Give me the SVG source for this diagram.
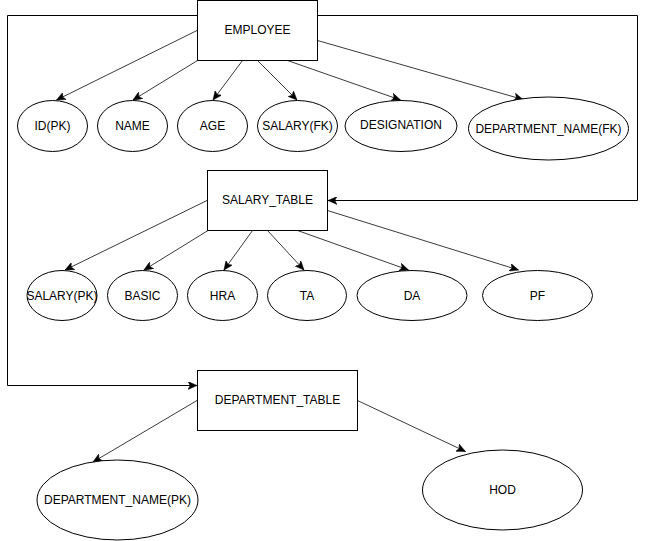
<svg xmlns="http://www.w3.org/2000/svg" width="646" height="541" viewBox="0 0 646 541">
  <style>
    .box { fill: #ffffff; stroke: #000000; stroke-width: 1; }
    .attr { fill: #ffffff; stroke: #000000; stroke-width: 1; }
    .lbl { font-family: "Liberation Sans", Arial, sans-serif; font-size: 12px; fill: #000000; text-anchor: middle; dominant-baseline: central; }
    .edge { fill: none; stroke: #3a3a3a; stroke-width: 1; marker-end: url(#arrow); }
    .link { fill: none; stroke: #000000; stroke-width: 1; marker-end: url(#arrow); }
  </style>
  <defs>
    <marker id="arrow" viewBox="0 0 10 8" refX="9" refY="4" markerWidth="10" markerHeight="8" markerUnits="userSpaceOnUse" orient="auto">
      <path d="M0,0 L9,4 L0,8 L2.2,4 Z" fill="#000000" stroke="#000000" stroke-width="0.5"/>
    </marker>
  </defs>
  <rect width="646" height="541" fill="#ffffff"/>

  <!-- connectors -->
  <g id="connectors">
    <!-- EMPLOYEE attributes -->
    <line class="edge" x1="197" y1="30.5" x2="56.5" y2="100"/>
    <line class="edge" x1="197.5" y1="60.5" x2="133" y2="100"/>
    <line class="edge" x1="242.5" y1="60.5" x2="213" y2="100"/>
    <line class="edge" x1="257.5" y1="60.5" x2="297" y2="100"/>
    <line class="edge" x1="287.5" y1="60.5" x2="400.5" y2="100"/>
    <line class="edge" x1="317.5" y1="40.5" x2="523" y2="99.5"/>
    <!-- SALARY_TABLE attributes -->
    <line class="edge" x1="207" y1="200.5" x2="65" y2="270"/>
    <line class="edge" x1="208" y1="230.5" x2="144" y2="270"/>
    <line class="edge" x1="252.5" y1="230.5" x2="224" y2="270"/>
    <line class="edge" x1="267.5" y1="230.5" x2="304" y2="270"/>
    <line class="edge" x1="297.5" y1="230.5" x2="408.5" y2="270"/>
    <line class="edge" x1="327.5" y1="210.5" x2="518.5" y2="270"/>
    <!-- DEPARTMENT_TABLE attributes -->
    <line class="edge" x1="197" y1="400.5" x2="93" y2="462"/>
    <line class="edge" x1="357.5" y1="400.5" x2="465.5" y2="451.5"/>
    <!-- foreign key links -->
    <polyline class="link" points="317.5,15.5 637.5,15.5 637.5,200.5 328,200.5"/>
    <polyline class="link" points="197.5,15.5 7.5,15.5 7.5,385.5 197,385.5"/>
  </g>

  <!-- entity tables -->
  <g id="employee">
    <rect class="box" x="197.5" y="0.5" width="120" height="60"/>
    <text class="lbl" x="257.5" y="30">EMPLOYEE</text>
  </g>
  <g id="salary-table">
    <rect class="box" x="207.5" y="170.5" width="120" height="60"/>
    <text class="lbl" x="267.5" y="200">SALARY_TABLE</text>
  </g>
  <g id="department-table">
    <rect class="box" x="197.5" y="370.5" width="160" height="60"/>
    <text class="lbl" x="277.5" y="400">DEPARTMENT_TABLE</text>
  </g>

  <!-- EMPLOYEE attributes -->
  <g id="emp-id">
    <ellipse class="attr" cx="52.5" cy="126" rx="35" ry="25.5"/>
    <text class="lbl" x="52.5" y="125.5">ID(PK)</text>
  </g>
  <g id="emp-name">
    <ellipse class="attr" cx="132.5" cy="126" rx="35" ry="25.5"/>
    <text class="lbl" x="132.5" y="125.5">NAME</text>
  </g>
  <g id="emp-age">
    <ellipse class="attr" cx="212.5" cy="126" rx="35" ry="25.5"/>
    <text class="lbl" x="212.5" y="125.5">AGE</text>
  </g>
  <g id="emp-salary">
    <ellipse class="attr" cx="297.5" cy="126" rx="40" ry="25.5"/>
    <text class="lbl" x="297.5" y="125.5">SALARY(FK)</text>
  </g>
  <g id="emp-designation">
    <ellipse class="attr" cx="401" cy="126" rx="56" ry="25.5"/>
    <text class="lbl" x="401" y="125">DESIGNATION</text>
  </g>
  <g id="emp-department">
    <ellipse class="attr" cx="548.5" cy="128.5" rx="80" ry="31.5"/>
    <text class="lbl" x="548.5" y="128.5">DEPARTMENT_NAME(FK)</text>
  </g>

  <!-- SALARY_TABLE attributes -->
  <g id="sal-salary">
    <ellipse class="attr" cx="62" cy="295.5" rx="35" ry="25"/>
    <text class="lbl" x="62" y="295.5">SALARY(PK)</text>
  </g>
  <g id="sal-basic">
    <ellipse class="attr" cx="142.5" cy="295.5" rx="35" ry="25"/>
    <text class="lbl" x="142.5" y="295.5">BASIC</text>
  </g>
  <g id="sal-hra">
    <ellipse class="attr" cx="222.5" cy="295.5" rx="35" ry="25"/>
    <text class="lbl" x="222.5" y="295.5">HRA</text>
  </g>
  <g id="sal-ta">
    <ellipse class="attr" cx="307" cy="295.5" rx="39.5" ry="25"/>
    <text class="lbl" x="307" y="295.5">TA</text>
  </g>
  <g id="sal-da">
    <ellipse class="attr" cx="412" cy="295.5" rx="55" ry="25"/>
    <text class="lbl" x="412" y="295.5">DA</text>
  </g>
  <g id="sal-pf">
    <ellipse class="attr" cx="537.5" cy="295.5" rx="55" ry="25"/>
    <text class="lbl" x="537.5" y="295.5">PF</text>
  </g>

  <!-- DEPARTMENT_TABLE attributes -->
  <g id="dep-name">
    <ellipse class="attr" cx="117.5" cy="500" rx="80.5" ry="40"/>
    <text class="lbl" x="117.5" y="499.5">DEPARTMENT_NAME(PK)</text>
  </g>
  <g id="dep-hod">
    <ellipse class="attr" cx="502.5" cy="490" rx="80" ry="40"/>
    <text class="lbl" x="502.5" y="489.5">HOD</text>
  </g>
</svg>
